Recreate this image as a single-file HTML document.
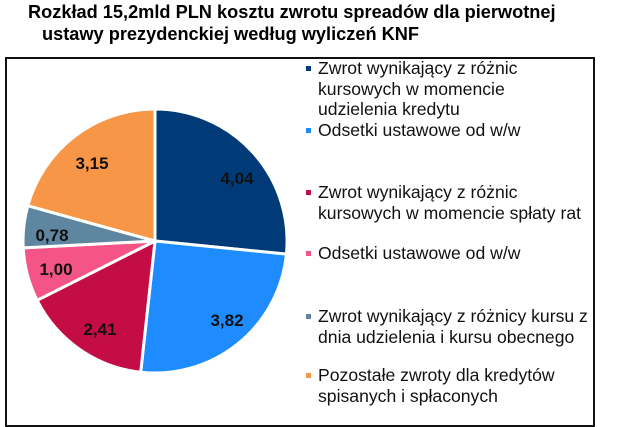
<!DOCTYPE html>
<html><head><meta charset="utf-8"><style>
body{margin:0;width:640px;height:427px;background:#fff;position:relative;overflow:hidden;font-family:"Liberation Sans",Arial,sans-serif}
.t{position:absolute;font-weight:bold;font-size:18.2px;color:#000;white-space:nowrap}
.box{position:absolute;left:5px;top:57px;width:586px;height:366px;border:2px solid #111}
.lg{position:absolute;left:318px;font-size:17.6px;color:#111;line-height:20.5px;white-space:nowrap}
.b{position:absolute;left:306px;width:5px;height:5px}
</style></head><body>
<div class="t" style="left:28px;top:2px">Rozkład 15,2mld PLN kosztu zwrotu spreadów dla pierwotnej</div>
<div class="t" style="left:42px;top:24px">ustawy prezydenckiej według wyliczeń KNF</div>
<div class="box"></div>
<svg width="640" height="427" style="position:absolute;left:0;top:0">
<g stroke="#fff" stroke-width="3" stroke-linejoin="round">
<path d="M155,241 L155,109 A132,132 0 0 1 286.4,254.1 Z" fill="#003b78"/>
<path d="M155,241 L286.4,254.1 A132,132 0 0 1 140.7,372.2 Z" fill="#1e8cff"/>
<path d="M155,241 L140.7,372.2 A132,132 0 0 1 37.1,300.3 Z" fill="#c40c45"/>
<path d="M155,241 L37.1,300.3 A132,132 0 0 1 23.2,247.9 Z" fill="#f55486"/>
<path d="M155,241 L23.2,247.9 A132,132 0 0 1 27.8,205.7 Z" fill="#5e86a0"/>
<path d="M155,241 L27.8,205.7 A132,132 0 0 1 155,109 Z" fill="#f79646"/>
</g>
<g font-family="Liberation Sans,Arial,sans-serif" font-weight="bold" font-size="17" fill="#111" text-anchor="middle">
<text x="237" y="184">4,04</text>
<text x="227" y="326">3,82</text>
<text x="100" y="335">2,41</text>
<text x="56" y="275">1,00</text>
<text x="52" y="241">0,78</text>
<text x="92" y="169">3,15</text>
</g>
</svg>
<div class="b" style="top:66px;background:#003b78"></div>
<div class="lg" style="top:58px">Zwrot wynikający z różnic<br>kursowych w momencie<br>udzielenia kredytu</div>
<div class="b" style="top:128px;background:#1e8cff"></div>
<div class="lg" style="top:120px">Odsetki ustawowe od w/w</div>
<div class="b" style="top:190px;background:#c40c45"></div>
<div class="lg" style="top:182px">Zwrot wynikający z różnic<br>kursowych w momencie spłaty rat</div>
<div class="b" style="top:251px;background:#f55486"></div>
<div class="lg" style="top:243px">Odsetki ustawowe od w/w</div>
<div class="b" style="top:314px;background:#5e86a0"></div>
<div class="lg" style="top:306px">Zwrot wynikający z różnicy kursu z<br>dnia udzielenia i kursu obecnego</div>
<div class="b" style="top:373px;background:#f79646"></div>
<div class="lg" style="top:365px">Pozostałe zwroty dla kredytów<br>spisanych i spłaconych</div>
</body></html>
